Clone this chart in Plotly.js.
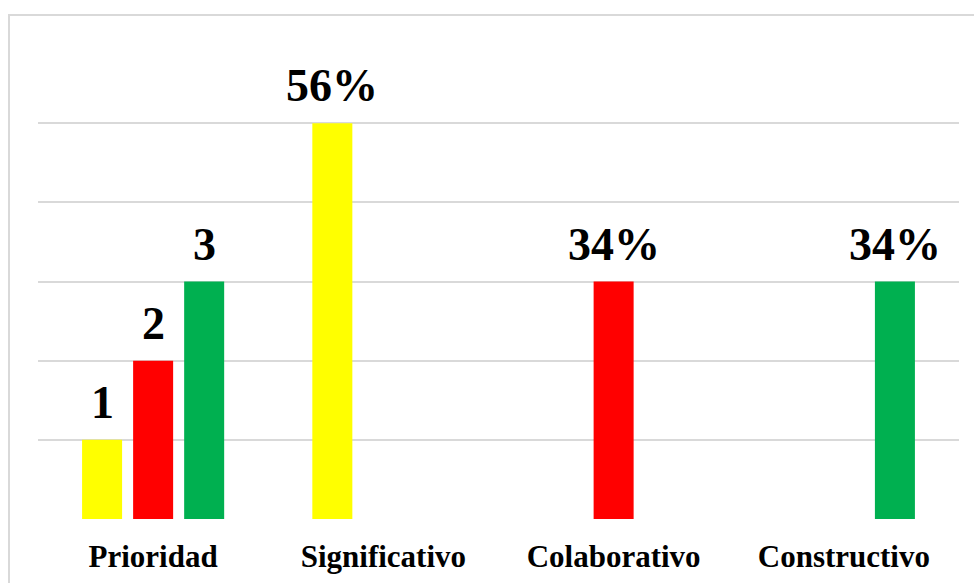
<!DOCTYPE html>
<html>
<head>
<meta charset="utf-8">
<script src="https://cdn.plot.ly/plotly-3.0.1.min.js"></script>
<style>
  body { margin: 0; background: #fff; }
  #chart { width: 974px; height: 583px; }
</style>
</head>
<body>
<div id="chart"></div>
<script>
// Categories and series (values in gridline units)
var categories = ['Prioridad', 'Significativo', 'Colaborativo', 'Constructivo'];
var yellowVals = [1, 5, null, null];
var redVals = [2, null, 3, null];
var greenVals = [3, null, null, 3];
var yellowText = ['1', '56%', '', ''];
var redText = ['2', '', '34%', ''];
var greenText = ['3', '', '', '34%'];

var series = [
    {vals: yellowVals, text: yellowText, color: '#FFFF00'},
    {vals: redVals, text: redText, color: '#FF0000'},
    {vals: greenVals, text: greenText, color: '#00B050'}
];

var bargap = 0.335;
var slot = (1 - bargap) / series.length;
var serif = 'Times New Roman, Liberation Serif, serif';
var labelFont = {family: serif, size: 46, color: '#000'};

var data = series.map(function (s) {
    return {
        x: categories,
        y: s.vals,
        type: 'bar',
        marker: {color: s.color},
        hoverinfo: 'none'
    };
});

// value labels sit a little above each bar
var annotations = [];
series.forEach(function (s, k) {
    s.vals.forEach(function (v, i) {
        if (v === null) return;
        annotations.push({
            x: i + (k - 1) * slot,
            y: v,
            xref: 'x',
            yref: 'y',
            text: '<b>' + s.text[i] + '</b>',
            showarrow: false,
            yanchor: 'bottom',
            yshift: 10,
            font: labelFont
        });
    });
});

var layout = {
    width: 974,
    height: 583,
    margin: {l: 38, r: 15, t: 44, b: 64},
    paper_bgcolor: '#fff',
    plot_bgcolor: '#fff',
    showlegend: false,
    barmode: 'group',
    bargap: bargap,
    bargroupgap: 0.216,
    xaxis: {
        type: 'category',
        showgrid: false,
        zeroline: false,
        showline: false,
        ticks: '',
        ticklabelstandoff: 16,
        tickfont: {family: serif, size: 31, color: '#000', weight: 'bold'}
    },
    yaxis: {
        range: [0, 6],
        dtick: 1,
        showticklabels: false,
        gridcolor: '#d9d9d9',
        gridwidth: 1.5,
        zeroline: false,
        showline: false
    },
    annotations: annotations,
    shapes: [{
        type: 'rect',
        xref: 'paper',
        yref: 'paper',
        x0: -0.0315,
        x1: 1.2,
        y0: -0.3,
        y1: 1.061,
        line: {color: '#d9d9d9', width: 2}
    }]
};

Plotly.newPlot('chart', data, layout, {displayModeBar: false});
</script>
</body>
</html>
